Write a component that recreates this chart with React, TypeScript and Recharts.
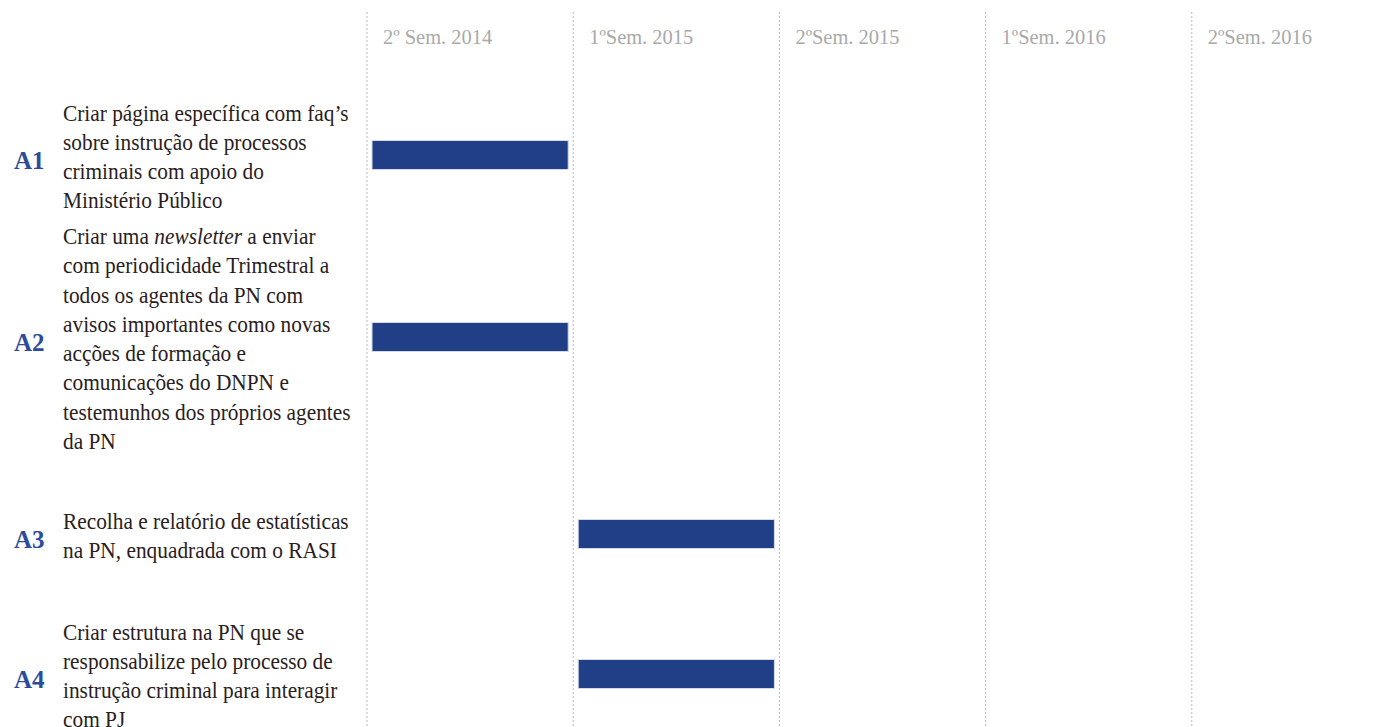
import React from 'react';
import { BarChart, Bar, XAxis, YAxis, CartesianGrid } from 'recharts';

// ---- data ----
const PERIODS = ['2º Sem. 2014', '1ºSem. 2015', '2ºSem. 2015', '1ºSem. 2016', '2ºSem. 2016'];
const TASK_IDS = ['A1', 'A2', 'A3', 'A4'];
const TASK_TEXT = [
  ['Criar página específica com faq’s', 'sobre instrução de processos', 'criminais com apoio do', 'Ministério Público'],
  [
    'Criar uma _newsletter_ a enviar',
    'com periodicidade Trimestral a',
    'todos os agentes da PN com',
    'avisos importantes como novas',
    'acções de formação e',
    'comunicações do DNPN e',
    'testemunhos dos próprios agentes',
    'da PN',
  ],
  ['Recolha e relatório de estatísticas', 'na PN, enquadrada com o RASI'],
  ['Criar estrutura na PN que se', 'responsabilize pelo processo de', 'instrução criminal para interagir', 'com PJ'],
];
const TASK_START = [0, 0, 1, 1]; // index of first semester
const TASK_END = [1, 1, 2, 2]; // index after last semester

// ---- layout (row band positions, px from plot top) ----
const ROW_POS = [142.5, 324.5, 521.5, 661.5];
const PLOT_TOP = 12;
const PLOT_H = 715;
const LEFT_W = 367;
const LINE_H = 29.3;

const data = TASK_IDS.map((id, i) => ({
  id,
  row: ROW_POS[i],
  span: [TASK_START[i], TASK_END[i]],
}));

const SERIF = '"Liberation Serif", "Times New Roman", serif';

const renderLine = (line: string) => {
  const parts = line.split('_');
  return parts.map((p, k) => (
    <tspan key={k} fontStyle={k % 2 === 1 ? 'italic' : 'normal'}>
      {p}
    </tspan>
  ));
};

const YTick = (props: any) => {
  const { y, payload } = props;
  const idx = ROW_POS.indexOf(payload.value);
  if (idx < 0) return null;
  const lines = TASK_TEXT[idx];
  const mid = y + 10;
  const first = mid - ((lines.length - 1) * LINE_H) / 2;
  return (
    <g>
      <text x={14} y={mid + 4} fontFamily={SERIF} fontWeight="bold" fontSize={25} fill="#2b4b9b">
        {TASK_IDS[idx]}
      </text>
      {lines.map((ln, k) => (
        <text
          key={k}
          transform={`translate(63, ${first + k * LINE_H}) scale(0.89, 1)`}
          fontFamily={SERIF}
          fontSize={24}
          fill="#2a1d1d"
        >
          {renderLine(ln)}
        </text>
      ))}
    </g>
  );
};

const XTick = (props: any) => {
  const { x, payload } = props;
  const label = PERIODS[payload.value];
  if (label === undefined) return null;
  return (
    <text
      transform={`translate(${x + 16}, 44) scale(0.93, 1)`}
      fontFamily={SERIF}
      fontSize={22}
      fill="#a9a9a9"
    >
      {label}
    </text>
  );
};

const BarShape = (props: any) => {
  const { x, y, width, height } = props;
  const inset = 5;
  return (
    <rect
      x={x + inset}
      y={y}
      width={Math.max(0, width - 2 * inset)}
      height={height}
      fill="#203f87"
      stroke="#d5dbea"
      strokeWidth={1}
    />
  );
};

export default function App() {
  return (
    <div style={{ position: 'absolute', left: 0, top: 0, width: 1389, height: 727, overflow: 'hidden', background: '#fff' }}>
      <BarChart
        width={1400}
        height={PLOT_TOP + PLOT_H}
        data={data}
        layout="vertical"
        margin={{ top: PLOT_TOP - 1, right: 2, bottom: 0, left: 0 }}
      >
        <CartesianGrid horizontal={false} vertical stroke="#b8b8b8" strokeDasharray="2 2" />
        <XAxis
          type="number"
          orientation="top"
          domain={[0, 5]}
          ticks={[0, 1, 2, 3, 4]}
          height={1}
          axisLine={false}
          tickLine={false}
          tick={<XTick />}
          interval={0}
        />
        <YAxis
          type="number"
          dataKey="row"
          domain={[0, PLOT_H]}
          ticks={ROW_POS}
          width={LEFT_W}
          axisLine={false}
          tickLine={false}
          tick={<YTick />}
          interval={0}
        />
        <Bar dataKey="span" barSize={29} isAnimationActive={false} shape={<BarShape />} />
      </BarChart>
    </div>
  );
}
